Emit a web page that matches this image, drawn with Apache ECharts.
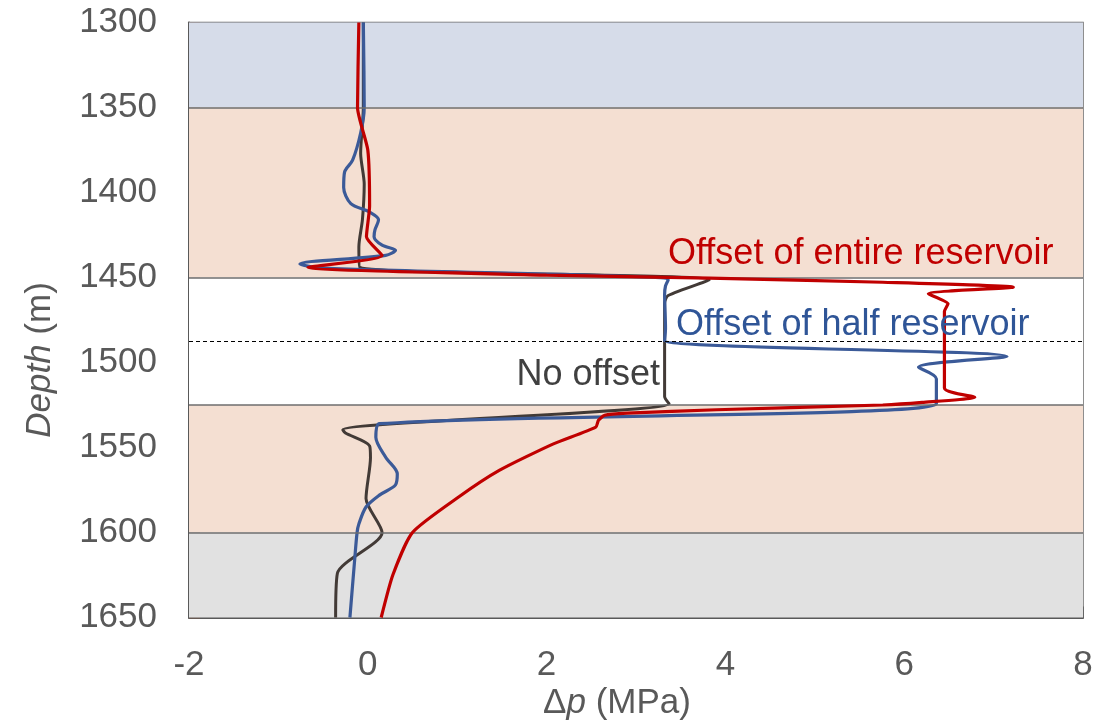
<!DOCTYPE html>
<html><head><meta charset="utf-8">
<script src="https://cdn.jsdelivr.net/npm/echarts@6/dist/echarts.min.js"></script>
<style>html,body{margin:0;padding:0;background:#fff}#c{width:1120px;height:723px}</style>
</head><body><div id="c"></div>
<script>
// ---- data ----
const xRange = [-2, 8];
const depthRange = [1300, 1650];
const layerBounds = [[1300, 1350], [1350, 1450], [1450, 1525], [1525, 1600], [1600, 1650]];
const layerKinds = ['cap', 'reservoir', 'aquifer', 'reservoir', 'base'];
const boundaryDepths = [1350, 1450, 1525, 1600];
const offsetDepth = [1487.5];

// [Δp (MPa), depth (m)]
const noOffset = [
  [-0.05,1300],[-0.05,1350],[-0.08,1377],[-0.04,1395],[-0.06,1416],[-0.1,1432],[-0.09,1444],
  [3.82,1451.4],[3.36,1460.6],[3.32,1465],[3.32,1520],[3.37,1524.3],
  [-0.28,1539.6],[-0.25,1541.5],[0.02,1549],[0.03,1556],[-0.02,1580],[0.16,1600],
  [-0.34,1624],[-0.36,1650]
];
const halfOffset = [
  [-0.05,1300],[-0.04,1350],[-0.08,1365],[-0.17,1381],[-0.26,1388],[-0.27,1397],[-0.19,1406.5],
  [0.02,1411.5],[0.12,1416],[0.08,1422],[0.07,1426],[0.16,1431],[0.31,1434],[0.2,1437],
  [-0.76,1442],[-0.5,1444.5],[3.36,1451.5],[3.33,1455],[3.32,1460],[3.33,1480],[3.32,1487],
  [7.15,1496.5],[6.16,1502.8],[6.36,1509.6],[6.36,1524.3],
  [0.13,1536],[0.09,1544],[0.2,1555.7],[0.33,1565.5],[0.31,1572],[0.13,1578],[-0.02,1585],
  [-0.1,1595],[-0.12,1600],[-0.15,1618],[-0.2,1650]
];
const entireOffset = [
  [-0.1,1300],[-0.115,1350],[0,1375],[0.02,1408],[-0.015,1426],[0.16,1437],[-0.67,1444],
  [2.0,1448.6],[3.82,1450.4],[5.76,1452.8],[7.22,1455.7],[6.27,1459.6],[6.49,1465.5],
  [6.45,1470],[6.45,1515],[6.79,1520.4],[6.2,1523.5],[5.76,1525],[3.9,1527.8],[2.9,1529.8],
  [2.65,1531],[2.58,1534],[2.55,1538],[2.07,1548],[1.47,1563.5],[1.02,1579],[0.5,1600],
  [0.28,1625],[0.15,1650]
];
const seriesNames = ['No offset', 'Offset of half reservoir', 'Offset of entire reservoir'];

// ---- styles ----
const FONT = '"Liberation Sans", Arial, sans-serif';
const layerColor = { cap: '#d6dce9', reservoir: '#f4dfd2', aquifer: '#ffffff', base: '#e1e1e1' };

const chart = echarts.init(document.getElementById('c'), null, { renderer: 'canvas' });
chart.setOption({
  animation: false,
  grid: { left: 189, right: 37, top: 22.5, bottom: 105.5, show: true, borderColor: '#6a6a6a', borderWidth: 1.5, backgroundColor: 'transparent' },
  xAxis: {
    type: 'value', min: xRange[0], max: xRange[1], interval: 2,
    axisLine: { show: true, onZero: false, lineStyle: { color: '#595959', width: 2 } },
    axisTick: { show: true, inside: true, length: 11, lineStyle: { color: '#595959', width: 1.5 } },
    axisLabel: { margin: 30, color: '#595959', fontSize: 35, fontFamily: FONT, formatter: v => String(v) },
    splitLine: { show: false }
  },
  yAxis: {
    type: 'value', inverse: true, min: depthRange[0], max: depthRange[1], interval: 50,
    axisLine: { show: true, onZero: false, lineStyle: { color: '#595959', width: 2 } },
    axisTick: { show: true, inside: true, length: 11, lineStyle: { color: '#6b5a50', width: 1.5 } },
    axisLabel: { margin: 32, color: '#595959', fontSize: 35, fontFamily: FONT, formatter: v => String(v) },
    splitLine: { show: false }
  },
  series: [
    {
      type: 'line', data: [], z: 1, silent: true,
      markArea: {
        silent: true,
        data: layerBounds.map((b, i) => [
          { yAxis: b[0], itemStyle: { color: layerColor[layerKinds[i]] } },
          { yAxis: b[1] }
        ])
      },
      markLine: {
        silent: true, symbol: ['none', 'none'], label: { show: false },
        data: boundaryDepths.map(d => ({ yAxis: d, lineStyle: { color: '#6e6e6e', width: 1.5, type: 'solid' } }))
          .concat(offsetDepth.map(d => ({ yAxis: d, lineStyle: { color: '#000000', width: 1, type: [4, 3] } })))
      }
    },
    {
      name: seriesNames[0], type: 'line', data: noOffset, z: 3, showSymbol: false, symbol: 'none',
      smooth: 0.25,
      lineStyle: { color: '#423a36', width: 3 }
    },
    {
      name: seriesNames[1], type: 'line', data: halfOffset, z: 4, showSymbol: false, symbol: 'none',
      smooth: 0.3,
      lineStyle: { color: '#3b5a98', width: 3.2 }
    },
    {
      name: seriesNames[2], type: 'line', data: entireOffset, z: 5, showSymbol: false, symbol: 'none',
      smooth: 0.2,
      lineStyle: { color: '#c00000', width: 3.2 }
    }
  ],
  graphic: [
    { type: 'text', left: 668, top: 254.5 - 18, style: { text: seriesNames[2], fill: '#c00000', font: '36px ' + FONT } , z: 10},
    { type: 'text', left: 676, top: 325 - 18, style: { text: seriesNames[1], fill: '#2f5597', font: '36px ' + FONT }, z: 10 },
    { type: 'text', right: 1120 - 660, top: 375.5 - 18, style: { text: seriesNames[0], fill: '#404040', font: '36px ' + FONT }, z: 10 },
    { type: 'text', x: 617, y: 703, style: { text: 'Δ{i|p} (MPa)', fill: '#595959', font: '35px ' + FONT, align: 'center', verticalAlign: 'middle',
        rich: { i: { fontStyle: 'italic', fontSize: 35, fontFamily: FONT, fill: '#595959' } } }, z: 10 },
    { type: 'text', x: 40, y: 360, rotation: Math.PI / 2, style: { text: '{i|Depth} (m)', fill: '#595959', font: '35px ' + FONT, align: 'center', verticalAlign: 'middle',
        rich: { i: { fontStyle: 'italic', fontSize: 35, fontFamily: FONT, fill: '#595959' } } }, z: 10 }
  ]
});
</script></body></html>
